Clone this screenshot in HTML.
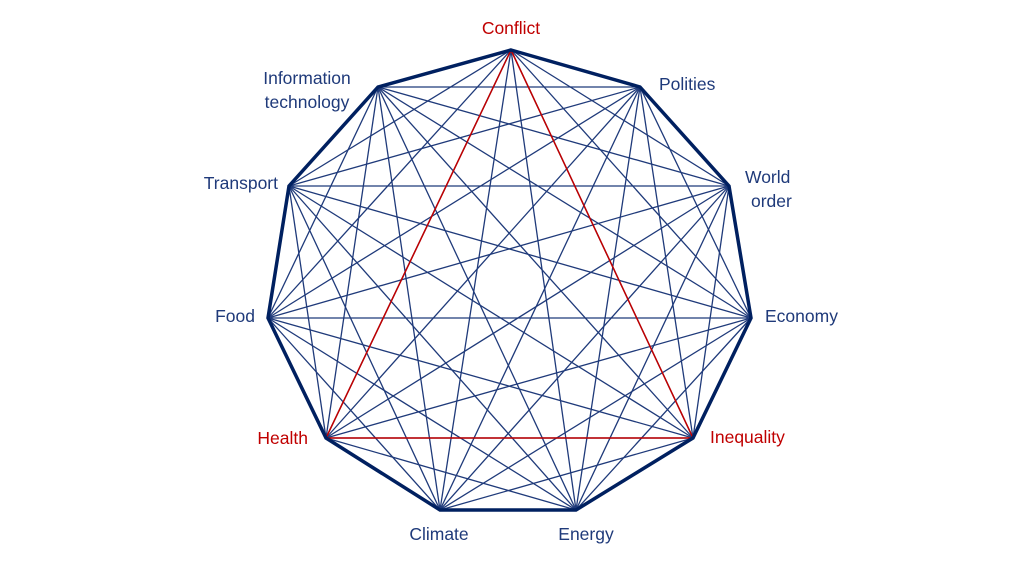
<!DOCTYPE html>
<html><head><meta charset="utf-8"><style>
html,body{margin:0;padding:0;background:#fff;}
svg{display:block;}
text{font-family:"Liberation Sans",sans-serif;font-size:17.5px;fill:#1f3a7a;}
</style></head><body>
<svg id="s" width="1024" height="576" viewBox="0 0 1024 576" xmlns="http://www.w3.org/2000/svg">
<g id="inner" stroke="#1f3a7a" stroke-width="1.3" fill="none"></g>
<g id="red" stroke="#c00000" stroke-width="1.5" fill="none">
<line x1="511" y1="50" x2="326" y2="438"/>
<line x1="511" y1="50" x2="693" y2="438"/>
<line x1="326" y1="438" x2="693" y2="438"/>
</g>
<polygon points="511,50 640,87 729,186 751,318 693,438 576,510 440,510 326,438 268,318 289,186 378,87" fill="none" stroke="#002060" stroke-width="3.5" stroke-linejoin="miter"/>
<text x="511" y="34" text-anchor="middle" style="fill:#c00000">Conflict</text>
<text x="659" y="90">Polities</text>
<text x="745" y="183">World</text>
<text x="751" y="207">order</text>
<text x="765" y="322">Economy</text>
<text x="710" y="443" style="fill:#c00000">Inequality</text>
<text x="586" y="540" text-anchor="middle">Energy</text>
<text x="439" y="540" text-anchor="middle">Climate</text>
<text x="308" y="444" text-anchor="end" style="fill:#c00000">Health</text>
<text x="255" y="322" text-anchor="end">Food</text>
<text x="278" y="189" text-anchor="end">Transport</text>
<text x="307" y="84" text-anchor="middle">Information</text>
<text x="307" y="108" text-anchor="middle">technology</text>
</svg>
<script>
var p=[[511,50],[640,87],[729,186],[751,318],[693,438],[576,510],[440,510],[326,438],[268,318],[289,186],[378,87]];
var g=document.getElementById('inner'),ns="http://www.w3.org/2000/svg";
for(var i=0;i<11;i++)for(var j=i+2;j<11;j++){if(i==0&&j==10)continue;
var l=document.createElementNS(ns,'line');l.setAttribute('x1',p[i][0]);l.setAttribute('y1',p[i][1]);l.setAttribute('x2',p[j][0]);l.setAttribute('y2',p[j][1]);g.appendChild(l);}
</script>
</body></html>
